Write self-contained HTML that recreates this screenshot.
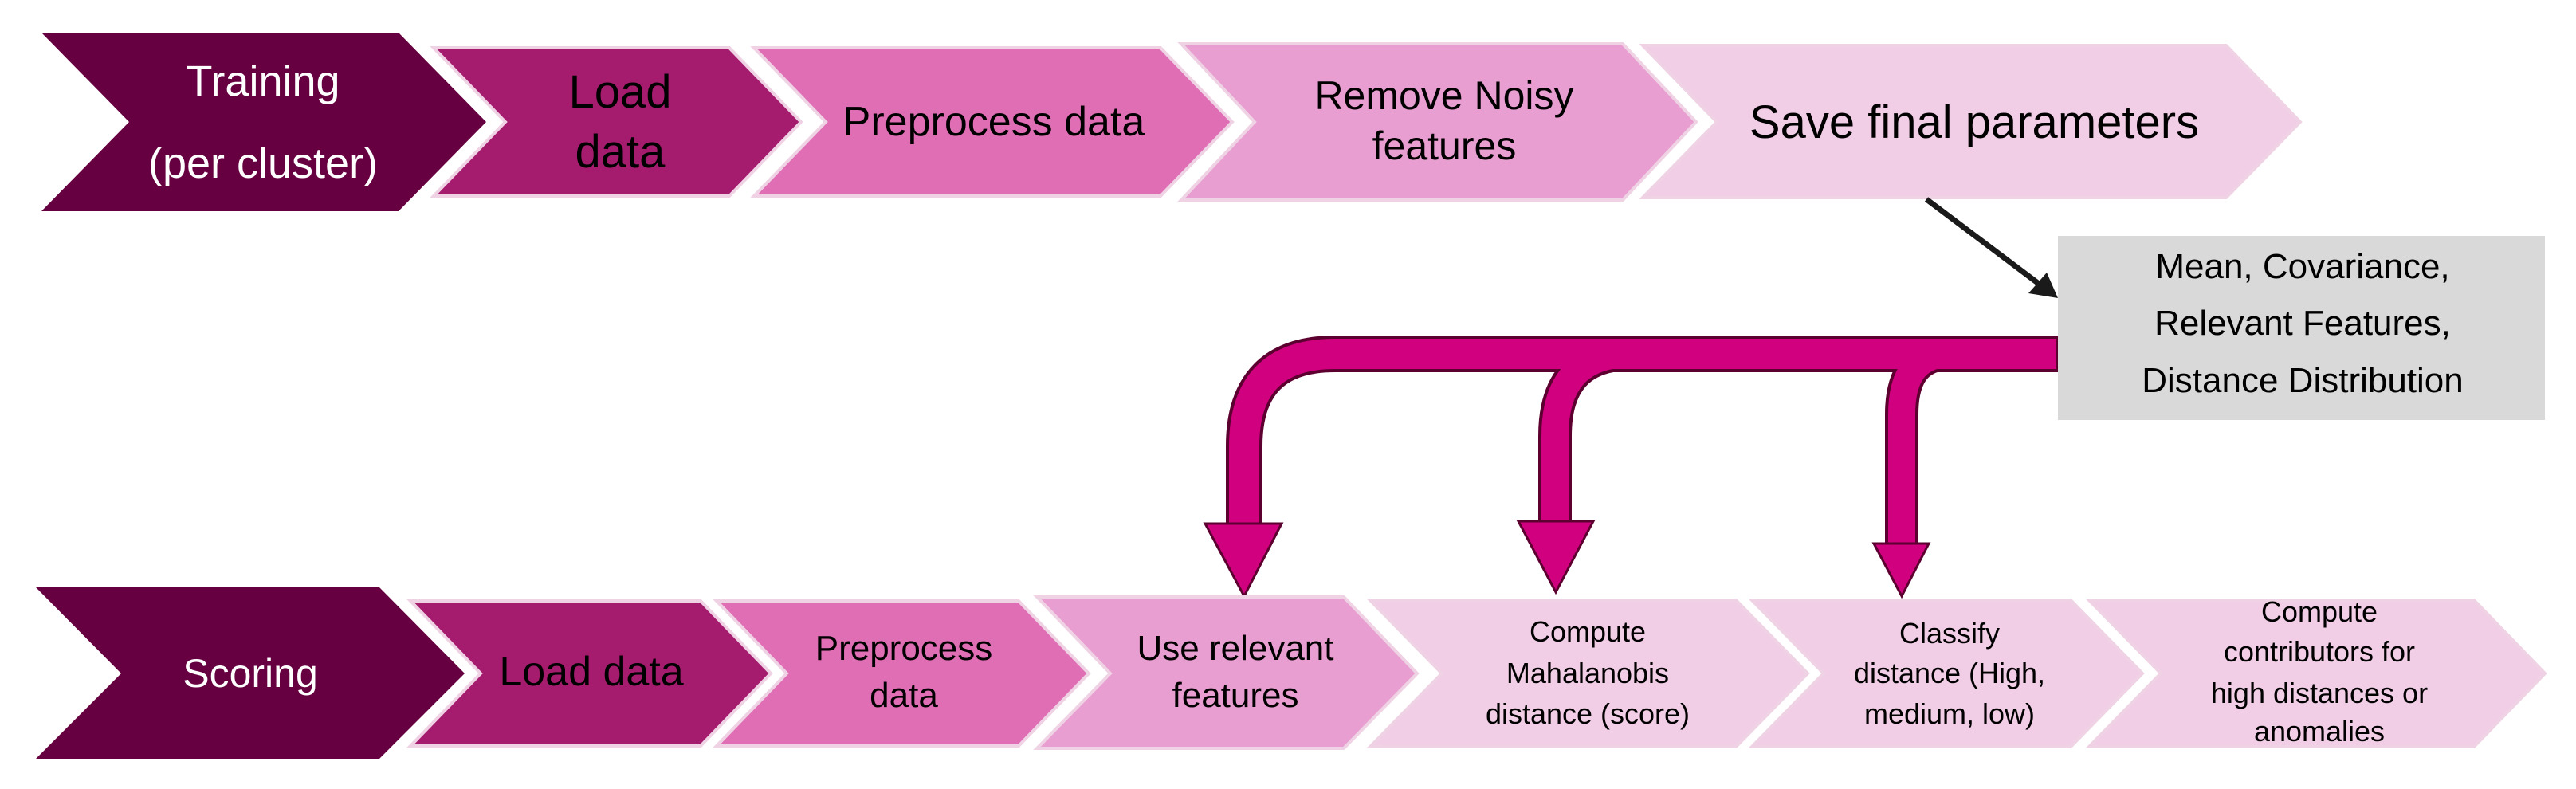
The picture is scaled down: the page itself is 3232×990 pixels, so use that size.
<!DOCTYPE html>
<html><head><meta charset="utf-8"><style>
html,body{margin:0;padding:0;background:#fff;}
svg{display:block}
text{font-family:"Liberation Sans",sans-serif;text-anchor:middle;}
</style></head><body>
<svg width="3232" height="990" viewBox="0 0 3232 990" xmlns="http://www.w3.org/2000/svg">
<polygon points="52,41 500,41 610,153 500,265 52,265 162,153" fill="#660040"/>
<polygon points="544,60 915,60 1005,153 915,246 544,246 634,153" fill="#a51c6e" stroke="#efd3e5" stroke-width="4"/>
<polygon points="946,60 1456,60 1546,153 1456,246 946,246 1036,153" fill="#e06eb5" stroke="#efd3e5" stroke-width="4"/>
<polygon points="1482,55 2036,55 2128,153 2036,251 1482,251 1574,153" fill="#e89ed0" stroke="#efd3e5" stroke-width="4"/>
<polygon points="2061,57 2793,57 2886,153 2793,248 2061,248 2154,153" fill="#f1cde6" stroke="#efd3e5" stroke-width="4"/>
<g font-size="54" fill="#fff">
<text x="330" y="120">Training</text>
<text x="330" y="223">(per cluster)</text>
</g>
<g font-size="58" fill="#000">
<text x="778" y="135">Load</text>
<text x="778" y="210">data</text>
<text x="1247" y="170" font-size="52">Preprocess data</text>
<text x="1812" y="137" font-size="50">Remove Noisy</text>
<text x="1812" y="200" font-size="50">features</text>
<text x="2477" y="173">Save final parameters</text>
</g>
<line x1="2417" y1="250" x2="2566" y2="362" stroke="#1a1a1a" stroke-width="7"/>
<polygon points="2582,374 2545,368 2568,342" fill="#1a1a1a"/>
<rect x="2582" y="296" width="611" height="231" fill="#d9d9d9"/>
<g font-size="44" fill="#000">
<text x="2889" y="349">Mean, Covariance,</text>
<text x="2889" y="420">Relevant Features,</text>
<text x="2889" y="492">Distance Distribution</text>
</g>
<g fill="none" stroke="#5c0030">
<path d="M2582,444 H1675 Q1561,444 1561,560 V660" stroke-width="46"/>
<path d="M2040,444 Q1951,448 1951,547 V657" stroke-width="42"/>
<path d="M2440,444 Q2386,448 2386,520 V685" stroke-width="42"/>
</g>
<g fill="none" stroke="#d1007f">
<path d="M2580,444 H1675 Q1561,444 1561,560 V662" stroke-width="38"/>
<path d="M2040,444 Q1951,448 1951,547 V659" stroke-width="34"/>
<path d="M2440,444 Q2386,448 2386,520 V687" stroke-width="34"/>
</g>
<g fill="#d1007f" stroke="#5c0030" stroke-width="3">
<polygon points="1512,657 1608,657 1561,748"/>
<polygon points="1905,654 1999,654 1952,743"/>
<polygon points="2351,682 2420,682 2386,748"/>
</g>
<polygon points="45,737 476,737 583,845 476,952 45,952 152,845" fill="#660040"/>
<polygon points="515,754 879,754 967,845 879,936 515,936 603,845" fill="#a51c6e" stroke="#efd3e5" stroke-width="4"/>
<polygon points="899,754 1278,754 1366,845 1278,936 899,936 987,845" fill="#e06eb5" stroke="#efd3e5" stroke-width="4"/>
<polygon points="1301,749 1686,749 1778,845 1686,939 1301,939 1393,845" fill="#e89ed0" stroke="#efd3e5" stroke-width="4"/>
<polygon points="1719,753 2178,753 2268,845 2178,937 1719,937 1809,845" fill="#f1cde6" stroke="#efd3e5" stroke-width="4"/>
<polygon points="2198,753 2598,753 2688,845 2598,937 2198,937 2288,845" fill="#f1cde6" stroke="#efd3e5" stroke-width="4"/>
<polygon points="2621,753 3104,753 3193,845 3104,937 2621,937 2711,845" fill="#f1cde6" stroke="#efd3e5" stroke-width="4"/>
<text x="314" y="862" font-size="50" fill="#fff">Scoring</text>
<g fill="#000">
<text x="742" y="860" font-size="52">Load data</text>
<text x="1134" y="828" font-size="44">Preprocess</text>
<text x="1134" y="887" font-size="44">data</text>
<text x="1550" y="828" font-size="44">Use relevant</text>
<text x="1550" y="887" font-size="44">features</text>
<g font-size="36">
<text x="1992" y="805">Compute</text>
<text x="1992" y="857">Mahalanobis</text>
<text x="1992" y="908">distance (score)</text>
<text x="2446" y="807">Classify</text>
<text x="2446" y="857">distance (High,</text>
<text x="2446" y="908">medium, low)</text>
<text x="2910" y="780">Compute</text>
<text x="2910" y="830">contributors for</text>
<text x="2910" y="882">high distances or</text>
<text x="2910" y="930">anomalies</text>
</g>
</g>
</svg>
</body></html>
